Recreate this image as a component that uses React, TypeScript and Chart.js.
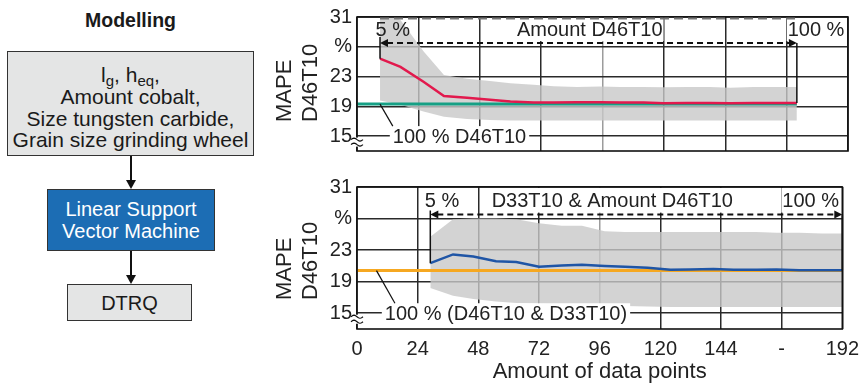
import React, { useEffect, useRef } from 'react';
import { Chart, registerables } from 'chart.js';
Chart.register(...registerables);

const FONT = '"Liberation Sans", Arial, Helvetica, sans-serif';

// ---- axis ticks ----
const xTicks = [0, 24, 48, 72, 96, 120, 144, 168, 192];
const xTickLabels = ['0', '24', '48', '72', '96', '120', '144', '-', '192'];
const yTicks = [15, 19, 23, 27, 31];
const yTickLabels = ['15', '19', '23', '%', '31'];

// ---- top chart: D46T10 only ----
const topX = [9, 17, 26, 34, 43, 52, 60, 69, 77, 86, 95, 103, 112, 120, 129, 138, 146, 155, 163, 172];
const topMape = [25.4, 24.3, 22.3, 20.4, 20.15, 19.9, 19.65, 19.5, 19.5, 19.55, 19.55, 19.5, 19.5, 19.4, 19.45, 19.45, 19.4, 19.45, 19.45, 19.45];
const topHigh = [32, 30.6, 26.4, 23.2, 22.7, 22.4, 22.1, 21.9, 21.7, 21.6, 21.65, 21.6, 21.6, 21.55, 21.6, 21.6, 21.5, 21.6, 21.6, 21.6];
const topLow = [19.8, 19.2, 18.3, 17.6, 17.3, 17.15, 17.1, 17.1, 17.1, 17.1, 17.1, 17.1, 17.1, 17.1, 17.1, 17.1, 17.1, 17.1, 17.1, 17.1];
const topRefX = [0, 172];
const topRefY = [19.3, 19.3];

// ---- bottom chart: D33T10 & D46T10 ----
const botX = [29, 38, 46, 55, 63, 72, 81, 89, 98, 106, 115, 124, 132, 141, 149, 158, 166, 175, 184, 192];
const botMape = [21.35, 22.45, 22.2, 21.6, 21.5, 20.9, 21.05, 21.15, 21.0, 20.9, 20.75, 20.5, 20.55, 20.6, 20.5, 20.5, 20.55, 20.45, 20.45, 20.45];
const botHigh = [24.7, 26.9, 27.0, 27.0, 26.9, 26.4, 26.1, 26.1, 25.4, 25.3, 25.3, 25.3, 25.3, 25.3, 25.3, 25.3, 25.2, 25.2, 25.1, 25.1];
const botLow = [18.2, 17.2, 16.8, 16.5, 16.3, 16.2, 16.1, 16.0, 15.9, 15.9, 15.85, 15.8, 15.8, 15.8, 15.8, 15.8, 15.8, 15.8, 15.8, 15.8];
const botRefX = [0, 192];
const botRefY = [20.4, 20.4];

type Ann = {
  arrowY: number;
  labels: { text: string; x: number; box: boolean }[];
  markTop: number;
  leaderFromX: number;
  leaderToX: number;
  noteText: string;
  noteX: number;
  noteY: number;
  dashedTop: boolean;
};

type Spec = {
  xs: number[];
  line: number[];
  lineColor: string;
  low: number[];
  high: number[];
  refX: number[];
  refY: number[];
  refColor: string;
  showX: boolean;
  padding: { top: number; right: number; bottom: number; left: number };
  ann: Ann;
};

const topSpec: Spec = {
  xs: topX, line: topMape, lineColor: '#e2194d',
  low: topLow, high: topHigh,
  refX: topRefX, refY: topRefY, refColor: '#16a085',
  showX: false,
  padding: { top: 15, right: 19, bottom: 9, left: 0 },
  ann: {
    arrowY: 27.5,
    labels: [
      { text: '5 %', x: 14, box: false },
      { text: 'Amount D46T10', x: 91, box: true },
      { text: '100 %', x: 179.5, box: true },
    ],
    markTop: 6,
    leaderFromX: 9, leaderToX: 14,
    noteText: '100 % D46T10', noteX: 14, noteY: 15,
    dashedTop: true,
  },
};

const botSpec: Spec = {
  xs: botX, line: botMape, lineColor: '#1f55a6',
  low: botLow, high: botHigh,
  refX: botRefX, refY: botRefY, refColor: '#f6a821',
  showX: true,
  padding: { top: 14, right: 19, bottom: 0, left: 0 },
  ann: {
    arrowY: 27.5,
    labels: [
      { text: '5 %', x: 33.6, box: false },
      { text: 'D33T10 & Amount D46T10', x: 101, box: true },
      { text: '100 %', x: 179.5, box: true },
    ],
    markTop: 4,
    leaderFromX: 7.7, leaderToX: 15,
    noteText: '100 % (D46T10 & D33T10)', noteX: 11, noteY: 15,
    dashedTop: false,
  },
};

function annPlugin(s: Spec) {
  return {
    id: 'ann',
    afterDraw(chart: any) {
      const { ctx, chartArea: a, scales } = chart;
      const X = (v: number) => scales.x.getPixelForValue(v);
      const Y = (v: number) => scales.y.getPixelForValue(v);
      const n = s.ann;
      ctx.save();
      ctx.font = `20px ${FONT}`;
      ctx.textBaseline = 'middle';
      const ay = Y(n.arrowY);
      const ly = ay - 13;
      for (const l of n.labels) {
        const w = ctx.measureText(l.text).width;
        const cx = X(l.x);
        if (l.box) {
          ctx.fillStyle = '#fff';
          ctx.fillRect(cx - w / 2 - 1, a.top + 1, w + 2, ay - a.top - 3);
        }
        ctx.fillStyle = '#222';
        ctx.textAlign = 'center';
        ctx.fillText(l.text, cx, ly);
      }
      const x0 = X(s.xs[0]);
      const x1 = X(s.xs[s.xs.length - 1]);
      ctx.strokeStyle = '#111';
      ctx.lineWidth = 1.5;
      ctx.beginPath();
      ctx.moveTo(x0, ay - n.markTop);
      ctx.lineTo(x0, Y(s.line[0]));
      ctx.moveTo(x1, ay);
      ctx.lineTo(x1, Y(s.line[s.line.length - 1]));
      ctx.stroke();
      ctx.setLineDash([6, 4]);
      ctx.lineWidth = 2;
      ctx.beginPath();
      ctx.moveTo(x0 + 7, ay);
      ctx.lineTo(x1 - 7, ay);
      ctx.stroke();
      ctx.setLineDash([]);
      ctx.fillStyle = '#111';
      ctx.beginPath();
      ctx.moveTo(x0, ay); ctx.lineTo(x0 + 8, ay - 4); ctx.lineTo(x0 + 8, ay + 4); ctx.closePath(); ctx.fill();
      ctx.beginPath();
      ctx.moveTo(x1, ay); ctx.lineTo(x1 - 8, ay - 4); ctx.lineTo(x1 - 8, ay + 4); ctx.closePath(); ctx.fill();

      // note label at the bottom
      const ny = Y(n.noteY);
      const nx = X(n.noteX);
      const nw = ctx.measureText(n.noteText).width;
      ctx.fillStyle = '#fff';
      ctx.fillRect(nx - 3, ny - 10, nw + 6, a.bottom - ny + 10);
      ctx.fillStyle = '#222';
      ctx.textAlign = 'left';
      ctx.fillText(n.noteText, nx, ny + 1);
      ctx.strokeStyle = '#111';
      ctx.lineWidth = 1.2;
      ctx.beginPath();
      ctx.moveTo(X(n.leaderFromX), Y(s.refY[0]));
      ctx.lineTo(X(n.leaderToX), ny - 10);
      ctx.stroke();

      // frame
      ctx.lineWidth = 1.6;
      ctx.strokeStyle = '#111';
      ctx.strokeRect(a.left, a.top, a.right - a.left, a.bottom - a.top);

      if (n.dashedTop) {
        ctx.strokeStyle = '#777';
        ctx.lineWidth = 2;
        ctx.setLineDash([9, 5]);
        ctx.beginPath();
        ctx.moveTo(x0, a.top + 1.5);
        ctx.lineTo(x1, a.top + 1.5);
        ctx.stroke();
        ctx.setLineDash([]);
      }

      // axis break symbol
      const by = Y(15) + 6;
      ctx.fillStyle = '#fff';
      ctx.fillRect(a.left - 1.5, by - 4.5, 3, 9);
      ctx.strokeStyle = '#111';
      ctx.lineWidth = 1.2;
      for (const dy of [-2.5, 2.5]) {
        ctx.beginPath();
        for (let i = 0; i <= 12; i++) {
          const xx = a.left - 6 + i;
          const yy = by + dy - Math.sin((i / 12) * 2 * Math.PI) * 1.5;
          if (i === 0) ctx.moveTo(xx, yy); else ctx.lineTo(xx, yy);
        }
        ctx.stroke();
      }

      // y title
      ctx.font = `22px ${FONT}`;
      ctx.fillStyle = '#222';
      ctx.textAlign = 'left';
      ctx.textBaseline = 'middle';
      const titles: [string, number][] = [['MAPE', 72], ['D46T10', 46]];
      for (const [t, off] of titles) {
        ctx.save();
        ctx.translate(a.left - off, a.bottom - 29);
        ctx.rotate(-Math.PI / 2);
        ctx.fillText(t, 0, 0);
        ctx.restore();
      }
      ctx.restore();
    },
  };
}

function buildConfig(s: Spec): any {
  const pts = (xs: number[], ys: number[]) => xs.map((x, i) => ({ x, y: ys[i] }));
  return {
    type: 'line',
    data: {
      datasets: [
        { data: pts(s.xs, s.line), borderColor: s.lineColor, borderWidth: 2.5, pointRadius: 0, fill: false, tension: 0, order: 0 },
        { data: pts(s.refX, s.refY), borderColor: s.refColor, borderWidth: 3, pointRadius: 0, fill: false, order: 1 },
        { data: pts(s.xs, s.low), borderColor: 'rgba(0,0,0,0)', borderWidth: 0, pointRadius: 0, fill: false, order: 3 },
        { data: pts(s.xs, s.high), borderColor: 'rgba(0,0,0,0)', borderWidth: 0, pointRadius: 0, fill: 2, backgroundColor: 'rgba(200,200,200,0.8)', order: 2 },
      ],
    },
    options: {
      responsive: false,
      animation: false,
      devicePixelRatio: 1,
      layout: { padding: s.padding },
      plugins: { legend: { display: false }, tooltip: { enabled: false } },
      scales: {
        x: {
          type: 'linear',
          min: 0,
          max: 192,
          afterBuildTicks: (sc: any) => { sc.ticks = xTicks.map((v) => ({ value: v })); },
          afterFit: (sc: any) => { sc.height = s.showX ? 56 : 0; },
          ticks: {
            display: s.showX,
            autoSkip: false,
            maxRotation: 0,
            padding: 8,
            color: '#222',
            font: { size: 20, family: FONT },
            callback: (_v: any, i: number) => xTickLabels[i],
          },
          grid: {
            drawTicks: false,
            lineWidth: 1.5,
            color: (c: any) => (c.tick && c.tick.value === 96 ? '#9c9c9c' : '#2a2a2a'),
          },
          border: { display: false },
          title: {
            display: s.showX,
            text: 'Amount of data points',
            color: '#222',
            font: { size: 22, family: FONT },
            padding: { top: 0, bottom: 0 },
          },
        },
        y: {
          type: 'linear',
          min: 13,
          max: 31,
          afterBuildTicks: (sc: any) => { sc.ticks = yTicks.map((v) => ({ value: v })); },
          afterFit: (sc: any) => { sc.width = 87; },
          ticks: {
            padding: 5,
            color: '#222',
            font: { size: 20, family: FONT },
            callback: (_v: any, i: number) => yTickLabels[i],
          },
          grid: { drawTicks: false, lineWidth: 1.5, color: '#2a2a2a' },
          border: { display: false },
        },
      },
    },
    plugins: [annPlugin(s)],
  };
}

function ChartCanvas({ spec, left, top, width, height }: { spec: Spec; left: number; top: number; width: number; height: number }) {
  const ref = useRef<HTMLCanvasElement>(null);
  useEffect(() => {
    const chart = new Chart(ref.current as HTMLCanvasElement, buildConfig(spec));
    return () => chart.destroy();
  }, [spec]);
  return <canvas ref={ref} width={width} height={height} style={{ position: 'absolute', left, top, width, height }} />;
}

const boxBase: React.CSSProperties = {
  position: 'absolute',
  boxSizing: 'border-box',
  border: '1.5px solid #333',
};

function Line({ top, children, color = '#1a1a1a', size = 21 }: { top: number; children: React.ReactNode; color?: string; size?: number }) {
  return (
    <div style={{ position: 'absolute', left: 0, right: 0, top, textAlign: 'center', lineHeight: '24px', fontSize: size, color, whiteSpace: 'nowrap' }}>
      {children}
    </div>
  );
}

const sub: React.CSSProperties = { fontSize: 15, verticalAlign: -4, lineHeight: 0 };

function Flow() {
  return (
    <>
      <div style={{ position: 'absolute', left: 7, width: 247, top: 8, textAlign: 'center', fontWeight: 'bold', fontSize: 19.5, lineHeight: '24px', color: '#1a1a1a' }}>
        Modelling
      </div>
      <div style={{ ...boxBase, left: 7, top: 51, width: 247, height: 105, background: '#e4e5e5' }}>
        <Line top={11}>l<span style={sub}>g</span>, h<span style={sub}>eq</span>,</Line>
        <Line top={33}>Amount cobalt,</Line>
        <Line top={54.5}>Size tungsten carbide,</Line>
        <Line top={76}>Grain size grinding wheel</Line>
      </div>
      <div style={{ ...boxBase, left: 47, top: 189, width: 168, height: 62, background: '#1c6db4' }}>
        <Line top={7} color="#fff" size={20}>Linear Support</Line>
        <Line top={29} color="#fff" size={20}>Vector Machine</Line>
      </div>
      <div style={{ ...boxBase, left: 67, top: 284, width: 125, height: 37, background: '#e4e5e5' }}>
        <Line top={5.5} size={20}>DTRQ</Line>
      </div>
      <svg width={260} height={385} style={{ position: 'absolute', left: 0, top: 0 }}>
        <line x1={131} y1={156} x2={131} y2={182} stroke="#111" strokeWidth={2} />
        <polygon points="126,180 136,180 131,189" fill="#111" />
        <line x1={131} y1={251} x2={131} y2={277} stroke="#111" strokeWidth={2} />
        <polygon points="126,275 136,275 131,284" fill="#111" />
      </svg>
    </>
  );
}

export default function App() {
  return (
    <div style={{ position: 'fixed', left: 0, top: 0, width: 867, height: 385, background: '#fff', fontFamily: FONT, overflow: 'hidden' }}>
      <Flow />
      <ChartCanvas spec={topSpec} left={270} top={0} width={597} height={168} />
      <ChartCanvas spec={botSpec} left={270} top={170} width={597} height={215} />
    </div>
  );
}
